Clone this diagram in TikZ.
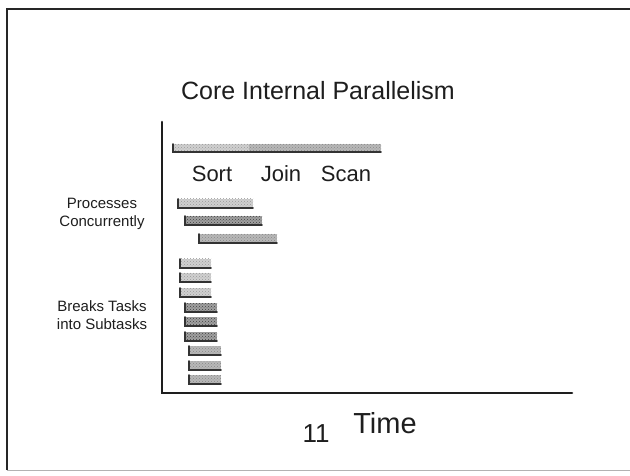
\documentclass[tikz,border=0pt]{standalone}
\usepackage{fontspec}
\setmainfont{Liberation Sans}
\usetikzlibrary{patterns}
\definecolor{ink}{HTML}{1E1E1E}
\definecolor{barlight}{HTML}{D0D0D0}
\definecolor{barmid}{HTML}{B8B8B8}
\definecolor{bardark}{HTML}{A0A0A0}
\tikzset{
  barbase/.style={inner sep=0pt, outer sep=0pt, draw=none, pattern=crosshatch dots},
  lightbar/.style={barbase, preaction={fill=barlight}, pattern color=gray!80},
  midbar/.style={barbase, preaction={fill=barmid}, pattern color=gray!95},
  darkbar/.style={barbase, preaction={fill=bardark}, pattern color=black!75},
  barshadow/.style={draw=black!80, line width=1.6pt, line cap=round},
  axis/.style={draw=ink, line width=2.6pt, line cap=round},
  lbl/.style={inner sep=0pt, text=ink, anchor=base},
  sidelbl/.style={inner sep=0pt, text=ink, align=center, font=\fontsize{15}{17.5}\selectfont}
}
\newcommand\mkbar[6]{%
  \node[#6, anchor=north west, minimum width={#4pt-#2pt}, minimum height={#5pt-#3pt}] (#1) at (#2,#3) {};
  \draw[barshadow] (#1.north west) -- (#1.south west) -- (#1.south east);
}
\begin{document}
\begin{tikzpicture}[x=1pt, y=-1pt]
\useasboundingbox[fill=white] (0,0) rectangle (630,476);
% frame
\draw[black!85, line width=1.8pt] (7,470) -- (7,9) -- (640,9);
\draw[black!30, line width=1pt] (7,470) -- (640,470);
% title
\node[lbl, font=\fontsize{25}{29}\selectfont] (title) at (318,100) {Core Internal Parallelism};
% axes
\coordinate (ytop) at (162,122);
\coordinate (orig) at (162,393);
\coordinate (xend) at (572,393);
\draw[axis] (ytop) -- (orig) -- (xend);
% top bar
\node[lightbar, anchor=north west, minimum width=76pt, minimum height=8pt] (tb1) at (173,144) {};
\node[midbar, anchor=north west, minimum width=132pt, minimum height=8pt] (tb2) at (249,144) {};
\draw[barshadow] (tb1.north west) -- (tb1.south west) -- (tb2.south east);
% labels
\node[lbl, font=\fontsize{22}{26}\selectfont] (sort) at (212,182) {Sort};
\node[lbl, font=\fontsize{22}{26}\selectfont] (join) at (281,182) {Join};
\node[lbl, font=\fontsize{22}{26}\selectfont] (scan) at (346,182) {Scan};
% concurrent bars
\mkbar{c1}{178}{199}{253}{208}{lightbar}
\mkbar{c2}{185}{216}{262}{225}{darkbar}
\mkbar{c3}{199}{234}{277}{243}{midbar}
% subtask bars
\mkbar{b1}{180}{259}{211}{268}{lightbar}
\mkbar{b2}{180}{273}{211}{282}{lightbar}
\mkbar{b3}{180}{288}{211}{297}{lightbar}
\mkbar{b4}{185}{303}{217}{312}{darkbar}
\mkbar{b5}{185}{317}{217}{326}{darkbar}
\mkbar{b6}{185}{332}{217}{341}{darkbar}
\mkbar{b7}{189}{346}{221}{355}{midbar}
\mkbar{b8}{189}{361}{221}{370}{midbar}
\mkbar{b9}{189}{375}{221}{384}{midbar}
% side labels
\node[sidelbl] (proc) at (102,214) {Processes\\Concurrently};
\node[sidelbl] (brk) at (102,315) {Breaks Tasks\\into Subtasks};
% bottom
\node[lbl, font=\fontsize{26}{30}\selectfont] (num) at (316,442) {11};
\node[lbl, font=\fontsize{29}{33}\selectfont] (time) at (385,433) {Time};
\end{tikzpicture}
\end{document}
